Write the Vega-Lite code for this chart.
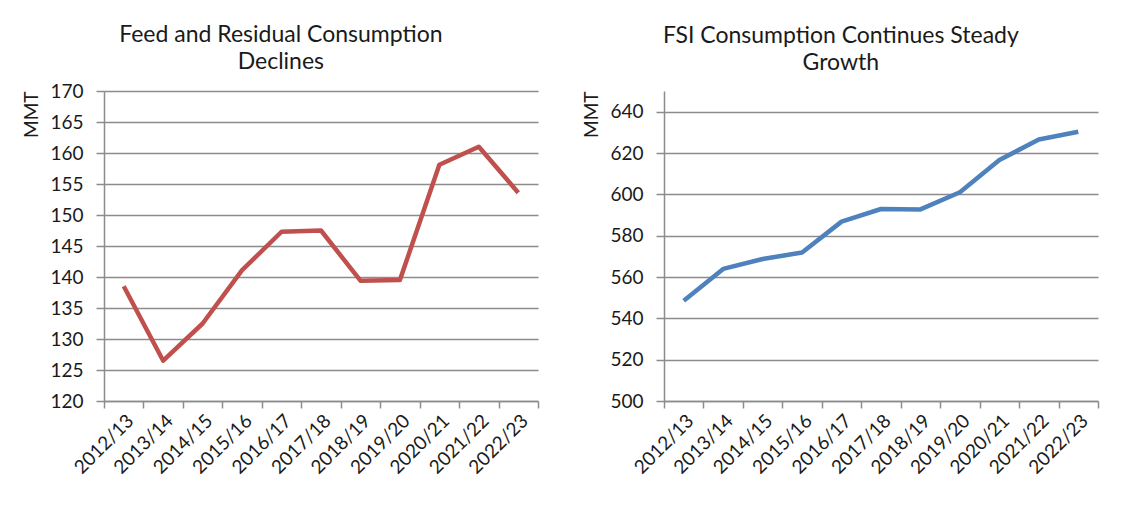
{
  "$schema": "https://vega.github.io/schema/vega-lite/v6.json",
  "background": "white",
  "padding": {"left": 22, "top": 24, "right": 10, "bottom": 5},
  "spacing": 43,
  "config": {
    "font": "Lato",
    "view": {"stroke": null},
    "axis": {
      "labelFont": "Lato", "labelFontSize": 19, "labelColor": "#1a1a1a",
      "domainColor": "#8c8c8c", "domainWidth": 1.5,
      "tickColor": "#8c8c8c", "tickWidth": 1.5,
      "gridColor": "#8c8c8c", "gridWidth": 1.5,
      "titleFont": "Lato", "titleFontSize": 19, "titleFontWeight": "normal", "titleColor": "#1a1a1a"
    },
    "title": {"font": "Lato", "fontSize": 23, "fontWeight": "normal", "color": "#1a1a1a", "frame": "bounds", "anchor": "middle", "lineHeight": 27}
  },
  "datasets": {
    "feed": [
      {"year": "2012/13", "value": 138.5},
      {"year": "2013/14", "value": 126.5},
      {"year": "2014/15", "value": 132.5},
      {"year": "2015/16", "value": 141.1},
      {"year": "2016/17", "value": 147.3},
      {"year": "2017/18", "value": 147.5},
      {"year": "2018/19", "value": 139.4},
      {"year": "2019/20", "value": 139.5},
      {"year": "2020/21", "value": 158.1},
      {"year": "2021/22", "value": 161.0},
      {"year": "2022/23", "value": 153.6}
    ],
    "fsi": [
      {"year": "2012/13", "value": 548.5},
      {"year": "2013/14", "value": 563.9},
      {"year": "2014/15", "value": 568.7},
      {"year": "2015/16", "value": 571.9},
      {"year": "2016/17", "value": 586.8},
      {"year": "2017/18", "value": 592.9},
      {"year": "2018/19", "value": 592.7},
      {"year": "2019/20", "value": 601.0},
      {"year": "2020/21", "value": 616.6},
      {"year": "2021/22", "value": 626.5},
      {"year": "2022/23", "value": 630.3}
    ]
  },
  "hconcat": [
    {
      "width": 434, "height": 310,
      "title": {"text": ["Feed and Residual Consumption", "Declines"], "offset": 8},
      "data": {"name": "feed"},
      "mark": {"type": "line", "color": "#c0504d", "strokeWidth": 4.5, "strokeJoin": "round", "strokeCap": "butt"},
      "encoding": {
        "x": {"field": "year", "type": "ordinal", "sort": null, "bandPosition": 0.5,
          "scale": {"type": "band", "paddingInner": 0, "paddingOuter": 0},
          "axis": {"title": null, "labelAngle": -45, "tickBand": "extent", "tickSize": 7, "grid": false, "labelPadding": 3}},
        "y": {"field": "value", "type": "quantitative",
          "scale": {"domain": [120, 170], "zero": false, "nice": false},
          "axis": {"title": "MMT", "values": [120, 125, 130, 135, 140, 145, 150, 155, 160, 165, 170], "tickSize": 8, "labelPadding": 13, "titleAnchor": "end", "titlePadding": 8}}
      }
    },
    {
      "width": 434, "height": 310,
      "title": {"text": ["FSI Consumption Continues Steady", "Growth"], "offset": 16},
      "data": {"name": "fsi"},
      "mark": {"type": "line", "color": "#4f81bd", "strokeWidth": 4.5, "strokeJoin": "round", "strokeCap": "butt"},
      "encoding": {
        "x": {"field": "year", "type": "ordinal", "sort": null, "bandPosition": 0.5,
          "scale": {"type": "band", "paddingInner": 0, "paddingOuter": 0},
          "axis": {"title": null, "labelAngle": -45, "tickBand": "extent", "tickSize": 7, "grid": false, "labelPadding": 3}},
        "y": {"field": "value", "type": "quantitative",
          "scale": {"domain": [500, 650], "zero": false, "nice": false},
          "axis": {"title": "MMT", "values": [500, 520, 540, 560, 580, 600, 620, 640], "tickSize": 8, "labelPadding": 13, "titleAnchor": "end", "titlePadding": 8}}
      }
    }
  ]
}
